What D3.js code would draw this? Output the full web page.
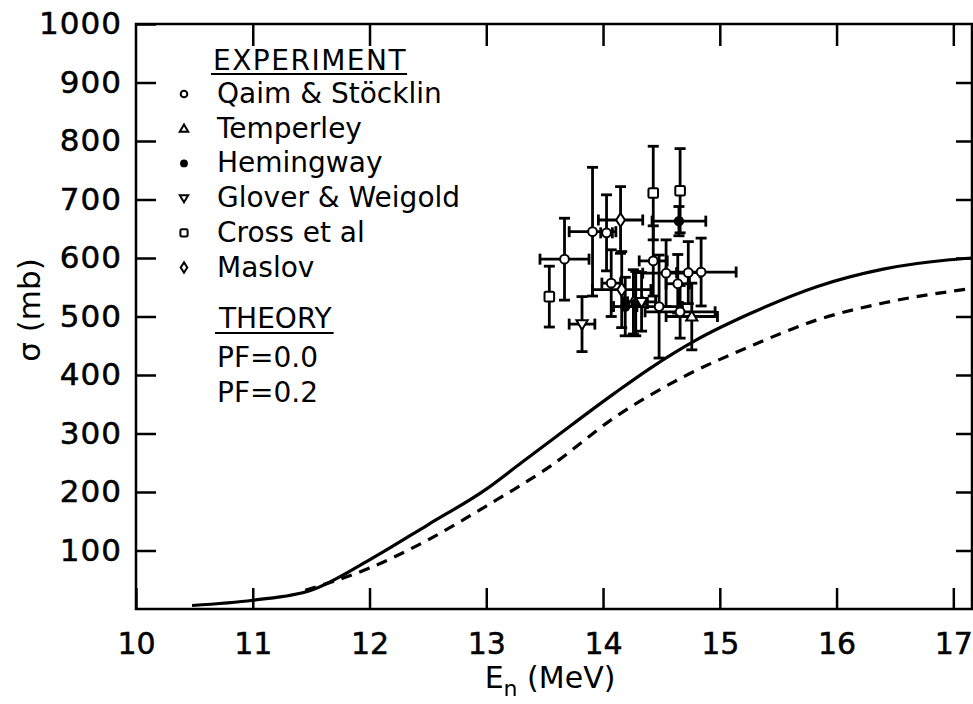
<!DOCTYPE html>
<html>
<head>
<meta charset="utf-8">
<script src="https://cdn.jsdelivr.net/npm/d3@7"></script>
<style>
  html, body { margin: 0; padding: 0; background: #fff; }
  svg { display: block; }
  text { font-family: "DejaVu Sans", sans-serif; fill: #000; }
</style>
</head>
<body>
<svg id="chart" width="973" height="704"></svg>
<script>
// ---------- data ----------
const xTicks = [10, 11, 12, 13, 14, 15, 16, 17];
const yTicks = [100, 200, 300, 400, 500, 600, 700, 800, 900, 1000];

// theory curves
const pf00E = [10.48, 11.0, 11.5, 12.0, 12.5, 13.0, 13.3, 13.6, 14.1, 14.4, 14.8, 15.26, 15.83, 16.4, 16.97, 17.16];
const pf00S = [6, 15, 32, 84, 144, 205, 250, 295, 369, 411, 460, 505, 551, 581, 597, 600];
const pf02E = [11.45, 12.0, 12.5, 13.0, 13.54, 14.11, 14.69, 15.26, 15.83, 16.4, 17.16];
const pf02S = [32, 70, 118, 176, 243, 329, 397, 449, 494, 523, 548];

// experiments: energy, sigma, energy error, sigma error
const qaimE  = [13.67, 13.91, 14.03, 14.07, 14.43, 14.54, 14.64, 14.73, 14.84, 14.66, 14.48];
const qaimS  = [598, 645, 643, 557, 595, 574, 556, 575, 576, 508, 517];
const qaimDE = [0.21, 0.20, 0.05, 0.08, 0.12, 0.20, 0.10, 0.10, 0.30, 0.30, 0.20];
const qaimDS = [70, 110, 65, 57, 60, 57, 50, 53, 58, 45, 88];

const tempE  = [14.76, 14.26];
const tempS  = [500, 525];
const tempDE = [0.22, 0.08];
const tempDS = [57, 55];

const hemE  = [14.65, 14.19, 14.28];
const hemS  = [663, 517, 522];
const hemDE = [0.23, 0.10, 0.10];
const hemDS = [25, 50, 55];

const glovE  = [13.82, 14.33];
const glovS  = [487, 525];
const glovDE = [0.11, 0.12];
const glovDS = [47, 50];

const crossE  = [13.54, 14.43, 14.66];
const crossS  = [534, 711, 715];
const crossDE = [0, 0, 0];
const crossDS = [52, 80, 72];

const maslE  = [14.15, 14.16];
const maslS  = [665, 546];
const maslDE = [0.19, 0.25];
const maslDS = [57, 65];

const legendNames = ["Qaim & Stöcklin", "Temperley", "Hemingway", "Glover & Weigold", "Cross et al", "Maslov"];
const legendSymbols = ["circle", "triangle", "filled", "invtriangle", "square", "diamond"];
const theoryNames = ["PF=0.0", "PF=0.2"];

// ---------- layout ----------
const svg = d3.select("#chart");
const L = 136, R = 972, T = 24, B = 609;
const x = d3.scaleLinear().domain([10, 17.16]).range([L, R]);
const y = d3.scaleLinear().domain([0, 1000]).range([B, T]);

const ink = "#000";

// frame
svg.append("rect").attr("x", L).attr("y", T).attr("width", R - L).attr("height", B - T)
  .attr("fill", "none").attr("stroke", ink).attr("stroke-width", 2.5);

// axes via d3
const xAxisB = d3.axisBottom(x).tickValues(xTicks).tickSize(-21).tickPadding(24).tickFormat(d3.format("d"));
const gxb = svg.append("g").attr("transform", `translate(0,${B})`).call(xAxisB);
const xAxisT = d3.axisTop(x).tickValues(xTicks.slice(1)).tickSize(-22).tickFormat("");
const gxt = svg.append("g").attr("transform", `translate(0,${T})`).call(xAxisT);
const yAxisL = d3.axisLeft(y).tickValues(yTicks).tickSize(-20).tickPadding(14).tickFormat(d3.format("d"));
const gyl = svg.append("g").attr("transform", `translate(${L},0)`).call(yAxisL);
const yAxisR = d3.axisRight(y).tickValues(yTicks.slice(0, -1)).tickSize(-16).tickFormat("");
const gyr = svg.append("g").attr("transform", `translate(${R},0)`).call(yAxisR);

[gxb, gxt, gyl, gyr].forEach(g => {
  g.select(".domain").remove();
  g.selectAll(".tick line").attr("stroke", ink).attr("stroke-width", 2.5);
  g.selectAll("text").style("font-family", "DejaVu Sans, sans-serif").attr("fill", ink)
    .attr("stroke", ink).attr("stroke-width", 0.5);
});
gxb.selectAll("text").attr("font-size", 30).attr("dy", "0.71em");
gyl.selectAll("text").attr("font-size", 31).attr("letter-spacing", 1);

// axis titles
const xt = svg.append("text").attr("x", 550).attr("y", 688).attr("text-anchor", "middle")
  .attr("font-size", 30);
xt.append("tspan").text("E");
xt.append("tspan").attr("font-size", 22).attr("dy", 8).text("n");
xt.append("tspan").attr("dy", -8).text(" (MeV)");

svg.append("text").attr("transform", "translate(40,310) rotate(-90)")
  .attr("text-anchor", "middle").attr("font-size", 31).text("σ (mb)");

// theory curves
const line = d3.line().x(d => x(d[0])).y(d => y(d[1])).curve(d3.curveMonotoneX);
svg.append("path").datum(pf00E.map((e, i) => [e, pf00S[i]]))
  .attr("d", line).attr("fill", "none").attr("stroke", ink).attr("stroke-width", 3.2);
svg.append("path").datum(pf02E.map((e, i) => [e, pf02S[i]]))
  .attr("d", line).attr("fill", "none").attr("stroke", ink).attr("stroke-width", 3.2)
  .attr("stroke-dasharray", "11,8");

// symbols
function drawSymbol(g, type, cx, cy, s) {
  if (type === "circle") {
    g.append("circle").attr("cx", cx).attr("cy", cy).attr("r", s * 0.55)
      .attr("fill", "#fff").attr("stroke", ink).attr("stroke-width", 2);
  } else if (type === "filled") {
    g.append("circle").attr("cx", cx).attr("cy", cy).attr("r", s * 0.65).attr("fill", ink);
  } else if (type === "square") {
    g.append("rect").attr("x", cx - s * 0.6).attr("y", cy - s * 0.6).attr("width", s * 1.2).attr("height", s * 1.2)
      .attr("rx", 1.5).attr("fill", "#fff").attr("stroke", ink).attr("stroke-width", 2);
  } else if (type === "triangle") {
    const h = s * 0.7;
    g.append("path").attr("d", `M${cx},${cy - h} L${cx + h},${cy + h * 0.7} L${cx - h},${cy + h * 0.7} Z`)
      .attr("fill", "#fff").attr("stroke", ink).attr("stroke-width", 2);
  } else if (type === "invtriangle") {
    const h = s * 0.7;
    g.append("path").attr("d", `M${cx},${cy + h} L${cx + h},${cy - h * 0.7} L${cx - h},${cy - h * 0.7} Z`)
      .attr("fill", "#fff").attr("stroke", ink).attr("stroke-width", 2);
  } else if (type === "diamond") {
    const w = s * 0.55, h = s * 0.85;
    g.append("path").attr("d", `M${cx},${cy - h} L${cx + w},${cy} L${cx},${cy + h} L${cx - w},${cy} Z`)
      .attr("fill", "#fff").attr("stroke", ink).attr("stroke-width", 2);
  }
}

// experimental points with error bars
const series = [
  {E: qaimE, S: qaimS, dE: qaimDE, dS: qaimDS, sym: "circle"},
  {E: tempE, S: tempS, dE: tempDE, dS: tempDS, sym: "triangle"},
  {E: hemE, S: hemS, dE: hemDE, dS: hemDS, sym: "filled"},
  {E: glovE, S: glovS, dE: glovDE, dS: glovDS, sym: "invtriangle"},
  {E: crossE, S: crossS, dE: crossDE, dS: crossDS, sym: "square"},
  {E: maslE, S: maslS, dE: maslDE, dS: maslDS, sym: "diamond"}
];
const gErr = svg.append("g");
const gPts = svg.append("g");
const cap = 5.5;
series.forEach(sr => {
  sr.E.forEach((e, i) => {
    const cx = x(e), cy = y(sr.S[i]);
    const y1 = y(sr.S[i] + sr.dS[i]), y2 = y(sr.S[i] - sr.dS[i]);
    gErr.append("line").attr("x1", cx).attr("x2", cx).attr("y1", y1).attr("y2", y2)
      .attr("stroke", ink).attr("stroke-width", 2.8);
    [y1, y2].forEach(yy => gErr.append("line").attr("x1", cx - cap).attr("x2", cx + cap)
      .attr("y1", yy).attr("y2", yy).attr("stroke", ink).attr("stroke-width", 2.8));
    if (sr.dE[i] > 0) {
      const x1 = x(e - sr.dE[i]), x2 = x(e + sr.dE[i]);
      gErr.append("line").attr("x1", x1).attr("x2", x2).attr("y1", cy).attr("y2", cy)
        .attr("stroke", ink).attr("stroke-width", 2.8);
      [x1, x2].forEach(xx => gErr.append("line").attr("x1", xx).attr("x2", xx)
        .attr("y1", cy - cap).attr("y2", cy + cap).attr("stroke", ink).attr("stroke-width", 2.8));
    }
    drawSymbol(gPts, sr.sym, cx, cy, 8);
  });
});

// legend
const LF = 28;
const lg = svg.append("g");
const ex = lg.append("text").attr("x", 213).attr("y", 70).attr("font-size", LF)
  .attr("letter-spacing", 1.5).text("EXPERIMENT");
const expW = ex.node().getComputedTextLength();
lg.append("line").attr("x1", 211).attr("x2", 213 + expW).attr("y1", 74).attr("y2", 74)
  .attr("stroke", ink).attr("stroke-width", 2.2);
legendNames.forEach((n, i) => {
  const by = 103 + i * 34.7;
  lg.append("text").attr("x", 217).attr("y", by).attr("font-size", LF).text(n);
  drawSymbol(lg, legendSymbols[i], 184, by - 9, 6);
});
const th = lg.append("text").attr("x", 219).attr("y", 328).attr("font-size", LF).text("THEORY");
const thW = th.node().getComputedTextLength();
lg.append("line").attr("x1", 215).attr("x2", 219 + thW + 2).attr("y1", 333).attr("y2", 333)
  .attr("stroke", ink).attr("stroke-width", 2.2);
theoryNames.forEach((n, i) => {
  lg.append("text").attr("x", 217).attr("y", 367 + i * 35).attr("font-size", LF).text(n);
});
</script>
</body>
</html>
